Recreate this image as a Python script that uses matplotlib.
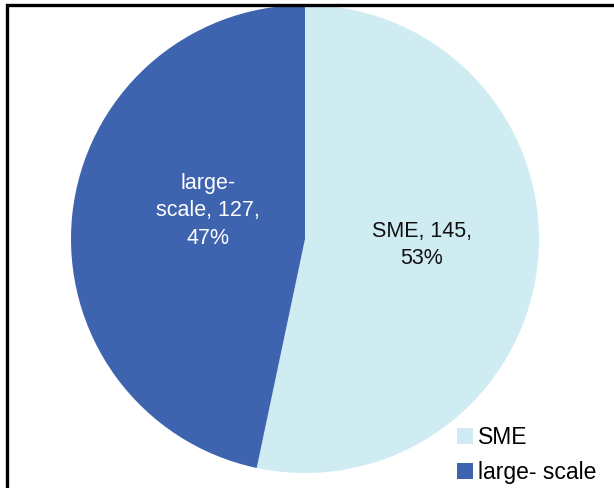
import matplotlib
matplotlib.use("Agg")
import matplotlib.pyplot as plt
from matplotlib.patches import Rectangle

categories = ["SME", "large- scale"]
counts = [145, 127]
label_names = ["SME", "large-\nscale"]
colors = ["#D0ECF3", "#3E63AF"]
text_colors = ["#111111", "white"]
# label centres in pie data units
label_pos = [(0.50, -0.025), (-0.415, 0.12)]

plt.rcParams["font.family"] = ["Liberation Sans", "DejaVu Sans"]

W, H = 614, 488
fig = plt.figure(figsize=(W / 100, H / 100), dpi=100)

# black frame, running off the right and bottom edges
fig.patches.append(Rectangle((7 / W, -0.05), 1.2, 1 - 5 / H + 0.05,
                             transform=fig.transFigure, fill=False,
                             edgecolor="black", linewidth=2.4))

cx, cy, r = 305, 249, 234
ax = fig.add_axes([(cx - r) / W, (cy - r) / H, 2 * r / W, 2 * r / H])

total = sum(counts)
fmt_iter = iter(range(len(counts)))


def make_label(pct):
    i = next(fmt_iter)
    return f"{label_names[i]}, {counts[i]},\n{round(counts[i] / total * 100)}%"


wedges, _, autotexts = ax.pie(counts, colors=colors, startangle=90,
                              counterclock=False, autopct=make_label,
                              pctdistance=0.45, radius=1,
                              wedgeprops=dict(linewidth=0))
for t, c, pos in zip(autotexts, text_colors, label_pos):
    t.set_color(c)
    t.set_fontsize(15.5)
    t.set_linespacing(1.4)
    t.set_position(pos)
ax.set_xlim(-1, 1)
ax.set_ylim(-1, 1)

fig.legend(wedges, categories, loc="upper left",
           bbox_to_anchor=(457 / W, 1 - 426 / H), frameon=False,
           fontsize=16.5, handlelength=0.68, handleheight=0.68,
           handletextpad=0.25, labelspacing=0.52, borderpad=0,
           borderaxespad=0)

fig.savefig("out.png", dpi=100)
